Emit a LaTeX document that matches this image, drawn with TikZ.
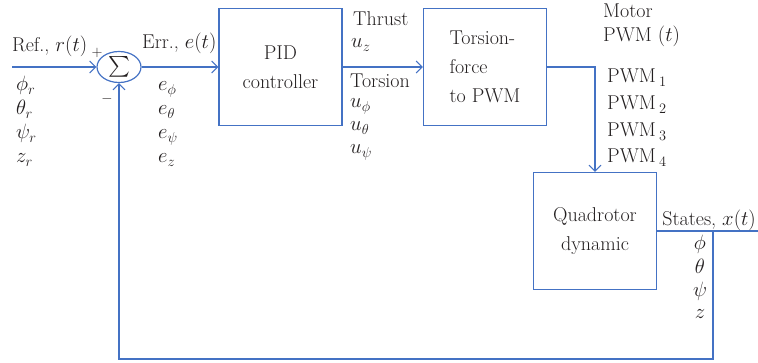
\documentclass[tikz,border=0pt]{standalone}
\usepackage{amsmath}
\usepackage{xcolor}
\usepackage{tikz}
\usetikzlibrary{arrows.meta,positioning,shapes.geometric}
\definecolor{wirec}{HTML}{4472C4}
\definecolor{ink}{HTML}{231F20}
\DeclareMathSizes{20}{20.74}{14.4}{12}
\newcommand{\dfont}{\fontsize{20}{29}\selectfont}
\tikzset{
  wire/.style={draw=wirec, line width=1.2pt},
  sig/.style={wire, -{Straight Barb[length=6pt,width=12pt,line width=1pt]}},
  block/.style={draw=wirec, line width=1.2pt, minimum width=123pt, minimum height=117pt, align=center, text=ink, font=\dfont},
  sumnode/.style={ellipse, draw=wirec, line width=1.2pt, minimum width=44pt, minimum height=31pt, inner sep=0pt, text=ink, font=\dfont},
  lab/.style={text=ink, inner sep=0pt, font=\dfont},
  labw/.style={lab, anchor=base west},
}

\begin{document}
\begin{tikzpicture}[x=1pt,y=1pt]
\useasboundingbox (0,0) rectangle (758,362);

% blocks
\node[sumnode] (sum) at (119,295) {$\sum$};
\node[block] (pid) at (280.5,295) {PID\\controller};
\node[block, align=left] (tpwm) at (485,295) {Torsion-\\force\\to PWM};
\node[block] (quad) at (595,131) {Quadrotor\\dynamic};

\coordinate (ref) at (12,295);
\coordinate (out) at (758,131);
\coordinate (tap) at (713,131);
\coordinate (low) at (713,3);

% signal paths
\draw[sig] (ref) -- (sum);
\draw[sig] (sum) -- (pid);
\draw[sig] (pid) -- (tpwm);
\draw[sig] (tpwm.east) -| (quad.north);
\draw[wire] (quad) -- (out);
\draw[sig] (tap) -- (low) -| (sum.south);

% labels
\node[labw] (reflab) at (12,310) {Ref., $r(t)$};
\node[lab, font=\fontsize{15}{15}\selectfont] (plus) at (97,309) {$+$};
\node[lab, font=\fontsize{15}{15}\selectfont] (minus) at (107,263) {$-$};
\node[labw] (errlab) at (142,313) {Err., $e(t)$};
\foreach \v/\y in {\phi/271,\theta/247,\psi/223,z/199}{
  \node[labw] (r-\y) at (16,\y) {$\v_r$};
  \node[labw] (e-\y) at (158,\y) {$e_\v$};
}
\node[labw] (thrust) at (353,336) {Thrust};
\node[labw] (uz) at (351,314) {$u_z$};
\node[labw] (torsion) at (350,274) {Torsion};
\node[labw] (uphi) at (350,254) {$u_\phi$};
\node[labw] (utheta) at (350,231) {$u_\theta$};
\node[labw] (upsi) at (350,208) {$u_\psi$};
\node[labw] (motor) at (603,344) {Motor};
\node[labw] (pwmt) at (603,320) {PWM $(t)$};
\foreach \k/\y in {1/279,2/252,3/225,4/199}{
  \node[labw] (pwm\k) at (607,\y) {PWM\,$_\k$};
}
\node[lab, anchor=base east] (states) at (756,137) {States, $x(t)$};
\foreach \v/\y in {\phi/113,\theta/89,\psi/66,z/44}{
  \node[lab, anchor=base] (x-\y) at (700,\y) {$\v$};
}
\end{tikzpicture}
\end{document}
